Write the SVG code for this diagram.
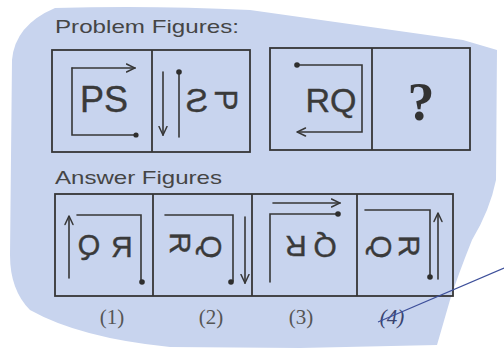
<svg xmlns="http://www.w3.org/2000/svg" width="504" height="356" viewBox="0 0 504 356">
<style>
.frame{fill:none;stroke:#363636;stroke-width:1.8}
.ln{fill:none;stroke:#363636;stroke-width:1.6;stroke-linecap:round}
.dot{fill:#2e2e2e}
.glyph{font-family:"Liberation Sans",Arial,sans-serif;fill:#3a3a3a;stroke:#3a3a3a;stroke-width:0.4;text-anchor:middle}
.head{font-family:"Liberation Sans",Arial,sans-serif;font-size:19px;fill:#454545}
.num{font-family:"Liberation Serif","Times New Roman",serif;font-size:21px;fill:#555;text-anchor:middle}
</style>
<defs>
<marker id="open" viewBox="0 0 10 10" refX="9.5" refY="5" markerWidth="10" markerHeight="10" markerUnits="userSpaceOnUse" orient="auto">
<path d="M1,1 L9.5,5 L1,9" fill="none" stroke="#363636" stroke-width="1.5" stroke-linecap="round"/>
</marker>
</defs>
<rect width="504" height="356" fill="#ffffff"/>
<path d="M55,8 Q150,5 250,10 L463,40 L497,50 L496,180 Q490,210 472,240 Q458,275 450,300 L437,345 L300,348 L170,347 Q80,338 30,310 Q10,290 10,255 L12,60 Q15,25 55,8 Z" fill="#c8d4ee"/>

<text class="head" x="55" y="33" textLength="184" lengthAdjust="spacingAndGlyphs">Problem Figures:</text>
<text class="head" x="55" y="184" textLength="167" lengthAdjust="spacingAndGlyphs">Answer Figures</text>

<g id="problem-frames">
<rect class="frame" x="52" y="50" width="198" height="102"/>
<line class="frame" x1="152" y1="50" x2="152" y2="152"/>
<rect class="frame" x="270" y="48" width="200" height="102"/>
<line class="frame" x1="372" y1="48" x2="372" y2="150"/>
</g>

<g id="problem-1">
<line class="ln" x1="72" y1="68" x2="135" y2="68" marker-end="url(#open)"/>
<path class="ln" d="M72,68 L72,135 L136,135"/>
<circle class="dot" cx="136" cy="135" r="2.6"/>
<text class="glyph" x="104" y="112" font-size="36">PS</text>
</g>

<g id="problem-2">
<line class="ln" x1="163" y1="72" x2="163" y2="135" marker-end="url(#open)"/>
<line class="ln" x1="179" y1="72" x2="179" y2="137"/>
<circle class="dot" cx="179" cy="72" r="2.8"/>
<text class="glyph" font-size="34" transform="translate(197,112) scale(-1,1)">S</text>
<text class="glyph" font-size="32" y="11.5" transform="translate(226,100) rotate(90)">P</text>
</g>

<g id="problem-3">
<path class="ln" d="M297,65 L362,65 L362,132 L297,132" marker-end="url(#open)"/>
<circle class="dot" cx="297" cy="65" r="2.8"/>
<text class="glyph" x="331" y="112" font-size="34">RQ</text>
</g>

<g id="problem-4">
<text x="421" y="120" font-family="Liberation Serif,'Times New Roman',serif" font-weight="bold" font-size="54" text-anchor="middle" fill="#333">?</text>
</g>

<g id="answer-frames">
<rect class="frame" x="55" y="194" width="398" height="102"/>
<line class="frame" x1="153" y1="194" x2="153" y2="296"/>
<line class="frame" x1="252" y1="194" x2="252" y2="296"/>
<line class="frame" x1="357" y1="194" x2="357" y2="296"/>
</g>

<g id="answer-1">
<line class="ln" x1="69" y1="278" x2="69" y2="216" marker-end="url(#open)"/>
<path class="ln" d="M77,215 L141,215 L141,281"/>
<circle class="dot" cx="142" cy="282" r="2.8"/>
<text class="glyph" font-size="29" transform="translate(89,255) scale(-1,1)">Q</text>
<text class="glyph" font-size="30" transform="translate(122,257) scale(-1,1)">R</text>
</g>

<g id="answer-2">
<path class="ln" d="M165,215 L233,215 L233,281"/>
<circle class="dot" cx="231" cy="282" r="2.8"/>
<line class="ln" x1="245" y1="217" x2="245" y2="283" marker-end="url(#open)"/>
<text class="glyph" font-size="30" y="10.7" transform="translate(181,243) rotate(90)">R</text>
<text class="glyph" font-size="30" y="10.7" transform="translate(212,247) rotate(90)">Q</text>
</g>

<g id="answer-3">
<line class="ln" x1="273" y1="203" x2="340" y2="203" marker-end="url(#open)"/>
<path class="ln" d="M270,282 L270,214 L338,214"/>
<circle class="dot" cx="338" cy="214" r="2.8"/>
<text class="glyph" font-size="30" y="10.7" transform="translate(296,247) rotate(180)">R</text>
<text class="glyph" font-size="30" y="10.7" transform="translate(325,248) rotate(180)">Q</text>
</g>

<g id="answer-4">
<path class="ln" d="M365,210 L430,210 L430,276"/>
<circle class="dot" cx="430" cy="277" r="2.8"/>
<line class="ln" x1="438" y1="279" x2="438" y2="213" marker-end="url(#open)"/>
<text class="glyph" font-size="30" y="10.7" transform="translate(382,247) rotate(90)">Q</text>
<text class="glyph" font-size="30" y="10.7" transform="translate(410,246) rotate(90)">R</text>
</g>

<g id="labels">
<text class="num" x="112" y="324">(1)</text>
<text class="num" x="211" y="324">(2)</text>
<text class="num" x="301" y="324">(3)</text>
<text x="392" y="324" font-family="Liberation Serif,'Times New Roman',serif" font-style="italic" font-size="21" text-anchor="middle" fill="#3a4470">(4)</text>
<line x1="378" y1="322" x2="504" y2="268" stroke="#3d4f9a" stroke-width="1.2"/>
</g>
</svg>
